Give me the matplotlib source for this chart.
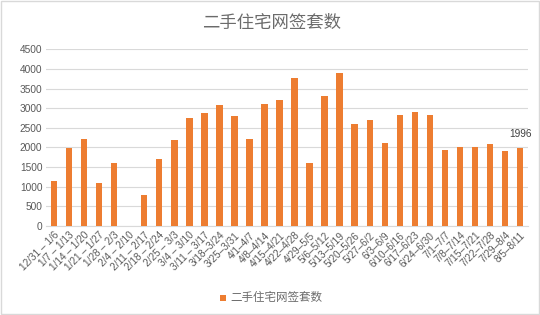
import matplotlib
matplotlib.use("Agg")
import matplotlib.pyplot as plt
from matplotlib.patches import Rectangle

categories = ["12/31 – 1/6", "1/7 – 1/13", "1/14 – 1/20", "1/21 – 1/27", "1/28 – 2/3",
              "2/4 – 2/10", "2/11 – 2/17", "2/18 – 2/24", "2/25 – 3/3", "3/4 – 3/10",
              "3/11 – 3/17", "3/18–3/24", "3/25–3/31", "4/1–4/7", "4/8–4/14", "4/15–4/21",
              "4/22–4/28", "4/29–5/5", "5/6–5/12", "5/13–5/19", "5/20–5/26", "5/27–6/2",
              "6/3–6/9", "6/10–6/16", "6/17–6/23", "6/24–6/30", "7/1–7/7", "7/8–7/14",
              "7/15–7/21", "7/22–7/28", "7/29–8/4", "8/5–8/11"]
values = [1150, 1980, 2220, 1100, 1600, 0, 780, 1700, 2180, 2750,
          2870, 3070, 2800, 2220, 3100, 3220, 3770, 1600, 3320, 3890,
          2600, 2700, 2120, 2820, 2900, 2820, 1930, 2020, 2020, 2100,
          1900, 1996]
yticks = [0, 500, 1000, 1500, 2000, 2500, 3000, 3500, 4000, 4500]
title = "二手住宅网签套数"

plt.rcParams['font.family'] = ['Noto Sans CJK SC', 'DejaVu Sans']

fig = plt.figure(figsize=(5.4, 3.15), dpi=100)
ax = fig.add_axes([0.0861, 0.2825, 0.891, 0.561])

x = list(range(len(categories)))
ax.bar(x, values, width=0.43, color="#ED7D31", zorder=3)
ax.set_xlim(-0.5, len(categories) - 0.5)
ax.set_ylim(0, 4500)
ax.set_yticks(yticks)
ax.set_yticklabels([str(v) for v in yticks], fontsize=7.3, color="#595959",
                   family=['Liberation Sans', 'DejaVu Sans'])
ax.set_xticks(x)
ax.set_xticklabels(categories, rotation=45, ha="right", rotation_mode="anchor",
                   fontsize=7.2, color="#595959", family=['Liberation Sans', 'DejaVu Sans'])
ax.tick_params(axis="both", length=0, pad=3)
ax.grid(axis="y", color="#d9d9d9", linewidth=0.8, zorder=0)
for s in ["top", "right", "left"]:
    ax.spines[s].set_visible(False)
ax.spines["bottom"].set_color("#d9d9d9")
ax.spines["bottom"].set_linewidth(0.8)

ax.annotate(str(values[-1]), (x[-1], values[-1]), xytext=(0, 6), textcoords="offset points",
            ha="center", va="bottom", fontsize=7.3, color="#404040",
            family=['Liberation Sans', 'DejaVu Sans'])

fig.text(0.503, 0.927, title, ha="center", va="center", fontsize=12.5, color="#6b6b6b")

# legend
fig.patches.append(Rectangle((0.407, 0.045), 0.011, 0.019, transform=fig.transFigure,
                             facecolor="#ED7D31", edgecolor="none"))
fig.text(0.426, 0.055, title, ha="left", va="center", fontsize=8.3, color="#6b6b6b")

fig.patches.append(Rectangle((0.001, 0.002), 0.997, 0.995, transform=fig.transFigure,
                             facecolor="none", edgecolor="#d9d9d9", linewidth=1))

fig.savefig("out.png", dpi=100)
